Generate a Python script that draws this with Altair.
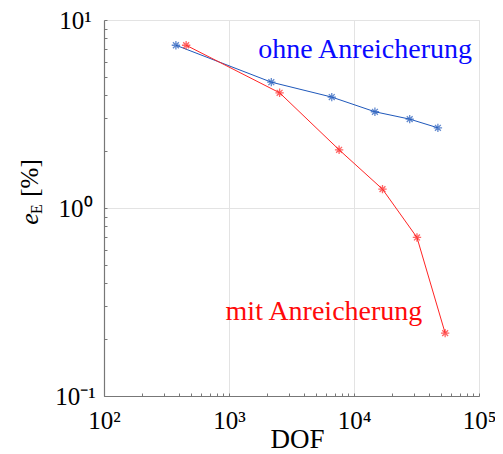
import altair as alt
import pandas as pd

# data
dof_ohne = [376, 2180, 6640, 14700, 27900, 46900]
err_ohne = [7.34, 4.67, 3.89, 3.25, 2.97, 2.67]
dof_mit = [454, 2540, 7600, 16900, 31900, 53600]
err_mit = [7.34, 4.10, 2.04, 1.26, 0.697, 0.216]

x_major = [100, 1000, 10000, 100000]
y_major = [0.1, 1, 10]
x_minor = [m * 10 ** k for k in (2, 3, 4) for m in range(1, 10)] + [100000]
y_minor = [m * 10 ** k for k in (-1, 0) for m in range(1, 10)] + [10]

FONT = "Liberation Serif"
BLUE = "#1f58bb"
RED = "#ff2424"
BLUE_TXT = "#0a0aff"
RED_TXT = "#ff0a0a"

df = pd.DataFrame({
    "dof": dof_ohne + dof_mit,
    "err": err_ohne + err_mit,
    "series": ["ohne"] * len(dof_ohne) + ["mit"] * len(dof_mit),
})

xs = alt.Scale(type="log", domain=[100, 100000], nice=False)
ys = alt.Scale(type="log", domain=[0.1, 10], nice=False)

x_lab = ("datum.value == 100 ? '\u200910²' : datum.value == 1000 ? '\u200910³' : "
         "datum.value == 10000 ? '\u200910⁴' : '10⁵'")
y_lab = "datum.value == 0.1 ? '10⁻¹' : datum.value == 1 ? '10⁰' : '10¹'"

color = alt.Color("series:N", scale=alt.Scale(domain=["ohne", "mit"], range=[BLUE, RED]), legend=None)

base = alt.Chart(df)

lines = base.mark_line(strokeWidth=1, clip=True).encode(
    x=alt.X("dof:Q", scale=xs, axis=alt.Axis(
        values=x_major, labelExpr=x_lab, title="DOF", tickSize=0, ticks=False,
        labelFont=FONT, labelFontSize=25, labelColor="black", labelBaseline="alphabetic",
        labelPadding=32, labelFlush=False, labelOverlap=False,
        titleFont=FONT, titleFontSize=27, titleFontWeight="normal", titleColor="black",
        titleBaseline="alphabetic", titleY=51, titleX=193,
        domainColor="#777777", domainWidth=1.2,
        grid=True, gridColor="#e3e3e3", gridWidth=1, orient="bottom")),
    y=alt.Y("err:Q", scale=ys, axis=alt.Axis(
        values=y_major, labelExpr=y_lab, title=None, tickSize=0, ticks=False,
        labelFont=FONT, labelFontSize=25, labelColor="black", labelAlign="center",
        labelBaseline="middle", labelPadding=29, labelFlush=False, labelOverlap=False,
        domainColor="#777777", domainWidth=1.2,
        grid=True, gridColor="#e3e3e3", gridWidth=1, orient="left")),
    color=color,
    detail="series:N",
)

star = "M-1,0L1,0M0,-1L0,1M-0.7,-0.7L0.7,0.7M-0.7,0.7L0.7,-0.7"
points = base.mark_point(shape=star, size=70, filled=False, strokeWidth=1.3).encode(
    x=alt.X("dof:Q", scale=xs, axis=None),
    y=alt.Y("err:Q", scale=ys, axis=None),
    color=color,
)

ticks = base.mark_point(opacity=0).encode(
    x=alt.X("dof:Q", scale=xs, axis=alt.Axis(
        values=x_minor, labels=False, domain=False, grid=False, ticks=True,
        tickSize=3, tickColor="#777777", offset=-3, title=None, orient="bottom")),
    y=alt.Y("err:Q", scale=ys, axis=alt.Axis(
        values=y_minor, labels=False, domain=False, grid=False, ticks=True,
        tickSize=3, tickColor="#777777", offset=-3, title=None, orient="left")),
)

ann_ohne = pd.DataFrame({"dof": [88000], "err": [6.28], "txt": ["ohne Anreicherung"]})
ann_mit = pd.DataFrame({"dof": [35200], "err": [0.253], "txt": ["mit Anreicherung"]})


def ann_layer(d, col):
    return alt.Chart(d).mark_text(
        font=FONT, fontSize=28, align="right", baseline="alphabetic", color=col
    ).encode(
        x=alt.X("dof:Q", scale=xs, axis=None),
        y=alt.Y("err:Q", scale=ys, axis=None),
        text="txt:N",
    )


lab_ohne = ann_layer(ann_ohne, BLUE_TXT)
lab_mit = ann_layer(ann_mit, RED_TXT)

yt_e = alt.Chart(pd.DataFrame({"t": ["e"]})).mark_text(
    font=FONT, fontSize=26, fontStyle="italic", angle=270, align="center", baseline="alphabetic", color="black"
).encode(x=alt.value(-66), y=alt.value(199), text="t:N")
yt_E = alt.Chart(pd.DataFrame({"t": ["E"]})).mark_text(
    font=FONT, fontSize=16, angle=270, align="center", baseline="alphabetic", color="black"
).encode(x=alt.value(-62), y=alt.value(189), text="t:N")
yt_p = alt.Chart(pd.DataFrame({"t": ["[%]"]})).mark_text(
    font=FONT, fontSize=25, angle=270, align="center", baseline="alphabetic", color="black"
).encode(x=alt.value(-66), y=alt.value(158), text="t:N")

chart = alt.layer(lines, points, ticks, lab_ohne, lab_mit, yt_e, yt_E, yt_p).resolve_axis(
    x="independent", y="independent"
).properties(
    width=375, height=376,
    autosize=alt.AutoSizeParams(type="none"),
    padding={"left": 96, "top": 12, "right": 16, "bottom": 60},
).configure_view(stroke="#e3e3e3", strokeWidth=1)

chart.save("out.html", embed_options={"renderer": "svg", "actions": False})
